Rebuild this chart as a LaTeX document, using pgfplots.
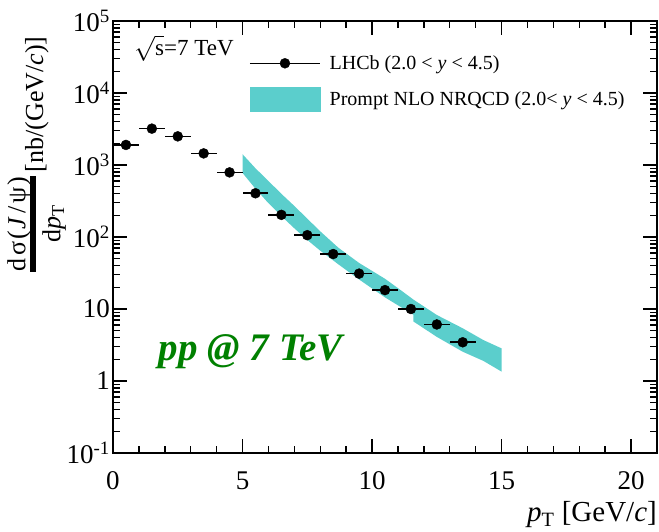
\documentclass[border=0pt]{standalone}
\usepackage{fontspec}
\setmainfont{Liberation Serif}
\usepackage{amsmath}
\usepackage{pgfplots}
\pgfplotsset{compat=1.18}
\definecolor{bandcol}{RGB}{91,206,204}
\definecolor{ppgreen}{RGB}{0,128,0}

\newcommand{\ylab}{%
  \begin{tabular}{@{}c@{}}
    d\hspace{3pt}σ\hspace{2pt}(\hspace{2pt}\textit{J}\hspace{3pt}/\hspace{3pt}ψ\hspace{2pt})\\[-4pt]
    \noalign{\hrule height 6pt}
    \rule{0pt}{24pt}d\textit{p}\textsubscript{T}
  \end{tabular}\,[nb/(GeV/\textit{c})]}

\begin{document}
\begin{tikzpicture}
\useasboundingbox (-113pt,-78pt) rectangle (546pt,453pt);
\begin{axis}[
  at={(0pt,0pt)}, anchor=south west,
  width=544pt, height=432pt, scale only axis,
  xmin=0, xmax=21, ymin=0.1, ymax=1e5, ymode=log,
  axis line style={line width=1.4pt},
  every tick/.style={line width=1.4pt, black},
  tick align=inside,
  major tick length=14pt, minor tick length=7pt,
  xtick={0,5,10,15,20}, xticklabels={0,5,10,15,20},
  minor x tick num=4,
  ytick={0.1,1,10,100,1000,10000,100000},
  yticklabels={10\textsuperscript{-1},1,10,10\textsuperscript{2},10\textsuperscript{3},10\textsuperscript{4},10\textsuperscript{5}},
  tick label style={font=\fontsize{27}{30}\selectfont},
  xticklabel style={yshift=-15pt},
  yticklabel style={inner sep=3pt},
  xlabel={\textit{p}\textsubscript{T} [GeV/\textit{c}]},
  xlabel style={at={(axis description cs:1,-0.143)}, anchor=east, font=\fontsize{29}{32}\selectfont, inner sep=0pt},
  ylabel={\ylab},
  ylabel style={at={(axis description cs:-0.14,0.692)}, anchor=center, font=\fontsize{26}{30}\selectfont},
  legend style={draw=none, fill=none, at={(axis description cs:0.25,0.925)}, anchor=north west,
    font=\fontsize{20}{24}\selectfont, row sep=14pt, inner sep=0pt,
    nodes={inner xsep=9pt, inner ysep=2pt}},
  legend cell align=left,
]
% NLO NRQCD band: upper edge left to right, then lower edge back
\addplot[fill=bandcol, draw=none, forget plot] coordinates {
  (5.0,1413) (5.5,900) (6.0,600) (6.5,398) (7.0,270) (7.4,195) (8.0,120)
  (8.7,71) (9.5,43.6) (10.5,26.3) (11.0,19.5) (11.6,13.5) (12.5,8.26)
  (13.5,5.4) (14.3,3.7) (15.0,2.84)
  (15.0,1.35) (14.3,1.9) (13.5,2.55) (12.5,4.1) (11.6,6.7) (11.6,8.3)
  (10.5,14.5) (9.5,25.7) (8.7,41.7) (8.0,64.6) (7.5,91) (7.0,132)
  (6.5,195) (6.0,295) (5.5,468) (5.0,776)
} -- cycle;
% LHCb data
\addplot[black, only marks, mark=*, mark size=5pt, forget plot,
  error bars/.cd, x dir=both, x explicit, y dir=both, y explicit,
  error bar style={line width=1.6pt}, error mark=none]
coordinates {
  (0.5,1900) +- (0.5,110)
  (1.5,3200) +- (0.5,190)
  (2.5,2500) +- (0.5,150)
  (3.5,1450) +- (0.5,90)
  (4.5,790) +- (0.5,50)
  (5.5,405) +- (0.5,25)
  (6.5,203) +- (0.5,13)
  (7.5,106) +- (0.5,7)
  (8.5,58) +- (0.5,4)
  (9.5,31) +- (0.5,2.2)
  (10.5,18.3) +- (0.5,1.4)
  (11.5,10) +- (0.5,0.8)
  (12.5,6.1) +- (0.5,0.55)
  (13.5,3.45) +- (0.5,0.35)
};
\addlegendimage{legend image code/.code={
  \draw[black, line width=1.5pt] (0pt,0pt) -- (70pt,0pt);
  \fill[black] (35pt,0pt) circle (5pt);}}
\addlegendentry{LHCb (2.0 < \textit{y} < 4.5)}
\addlegendimage{legend image code/.code={
  \fill[bandcol] (0pt,-12pt) rectangle (70pt,12pt);}}
\addlegendentry{Prompt NLO NRQCD (2.0< \textit{y} < 4.5)}
\node[anchor=west, font=\fontsize{23}{26}\selectfont] at (axis description cs:0.033,0.937) {$\sqrt{\text{s}}$=7 TeV};
\node[anchor=west, text=ppgreen, font=\fontsize{39}{44}\selectfont\bfseries\itshape] at (axis description cs:0.078,0.234) {pp @ 7 TeV};
\end{axis}
\end{tikzpicture}
\end{document}
